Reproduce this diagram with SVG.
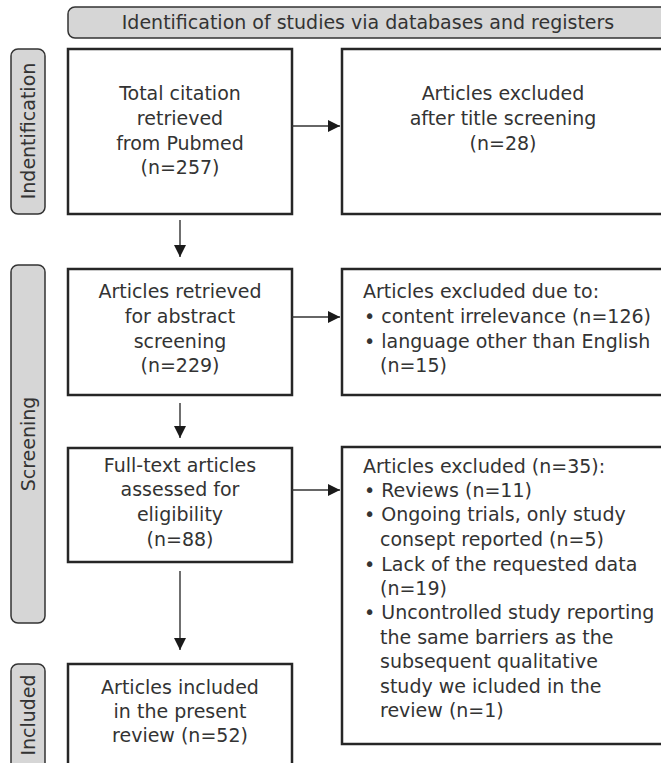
<svg xmlns="http://www.w3.org/2000/svg" width="661" height="763" viewBox="0 0 661 763">
<style>
.box{fill:#fff;stroke:#262626;stroke-width:2.5}
.side{fill:#d6d6d6;stroke:#333;stroke-width:1.5}
text{font-family:"DejaVu Sans",sans-serif;font-size:19px;fill:#333}
.c{text-anchor:middle}
.ln{stroke:#333;stroke-width:1.4;fill:none;marker-end:url(#ah)}
</style>
<defs>
<marker id="ah" viewBox="0 0 10 10" refX="10" refY="5" markerWidth="12" markerHeight="12" markerUnits="userSpaceOnUse" orient="auto">
<path d="M0,0 L10,5 L0,10 Z" fill="#1a1a1a"/>
</marker>
</defs>
<g id="header">
<rect class="side" x="68" y="7" width="600" height="31" rx="7"/>
<text class="c" x="368" y="29">Identification of studies via databases and registers</text>
</g>
<g id="side-identification">
<rect class="side" x="11" y="49" width="34" height="165" rx="7"/>
<text class="c" transform="translate(35,131) rotate(-90)">Indentification</text>
</g>
<g id="side-screening">
<rect class="side" x="11" y="265" width="34" height="358" rx="7"/>
<text class="c" transform="translate(35,444) rotate(-90)">Screening</text>
</g>
<g id="side-included">
<rect class="side" x="11" y="664" width="34" height="110" rx="7"/>
<text class="c" transform="translate(35,715) rotate(-90)">Included</text>
</g>
<g id="n1">
<rect class="box" x="68" y="49" width="224" height="165"/>
<text class="c" x="180" y="100">Total citation</text>
<text class="c" x="180" y="125">retrieved</text>
<text class="c" x="180" y="150">from Pubmed</text>
<text class="c" x="180" y="174">(n=257)</text>
</g>
<g id="n2">
<rect class="box" x="342" y="49" width="330" height="165"/>
<text class="c" x="503" y="100">Articles excluded</text>
<text class="c" x="503" y="125">after title screening</text>
<text class="c" x="503" y="150">(n=28)</text>
</g>
<g id="n3">
<rect class="box" x="68" y="269" width="224" height="126"/>
<text class="c" x="180" y="298">Articles retrieved</text>
<text class="c" x="180" y="323">for abstract</text>
<text class="c" x="180" y="348">screening</text>
<text class="c" x="180" y="372">(n=229)</text>
</g>
<g id="n4">
<rect class="box" x="342" y="269" width="330" height="126"/>
<text x="363" y="298">Articles excluded due to:</text>
<text x="364" y="323">• content irrelevance (n=126)</text>
<text x="364" y="348">• language other than English</text>
<text x="380" y="372">(n=15)</text>
</g>
<g id="n5">
<rect class="box" x="68" y="448" width="224" height="114"/>
<text class="c" x="180" y="472">Full-text articles</text>
<text class="c" x="180" y="496">assessed for</text>
<text class="c" x="180" y="521">eligibility</text>
<text class="c" x="180" y="546">(n=88)</text>
</g>
<g id="n6">
<rect class="box" x="342" y="447" width="330" height="297"/>
<text x="363" y="473">Articles excluded (n=35):</text>
<text x="364" y="497">• Reviews (n=11)</text>
<text x="364" y="521">• Ongoing trials, only study</text>
<text x="380" y="546">consept reported (n=5)</text>
<text x="364" y="571">• Lack of the requested data</text>
<text x="380" y="595">(n=19)</text>
<text x="364" y="619">• Uncontrolled study reporting</text>
<text x="380" y="644">the same barriers as the</text>
<text x="380" y="668">subsequent qualitative</text>
<text x="380" y="693">study we icluded in the</text>
<text x="380" y="717">review (n=1)</text>
</g>
<g id="n7">
<rect class="box" x="68" y="664" width="224" height="110"/>
<text class="c" x="180" y="694">Articles included</text>
<text class="c" x="180" y="718">in the present</text>
<text class="c" x="180" y="742">review (n=52)</text>
</g>
<g id="connectors">
<line class="ln" x1="292" y1="126" x2="340" y2="126"/>
<line class="ln" x1="180" y1="220" x2="180" y2="257"/>
<line class="ln" x1="292" y1="317" x2="340" y2="317"/>
<line class="ln" x1="180" y1="403" x2="180" y2="438"/>
<line class="ln" x1="292" y1="490" x2="340" y2="490"/>
<line class="ln" x1="180" y1="571" x2="180" y2="650"/>
</g>
</svg>
